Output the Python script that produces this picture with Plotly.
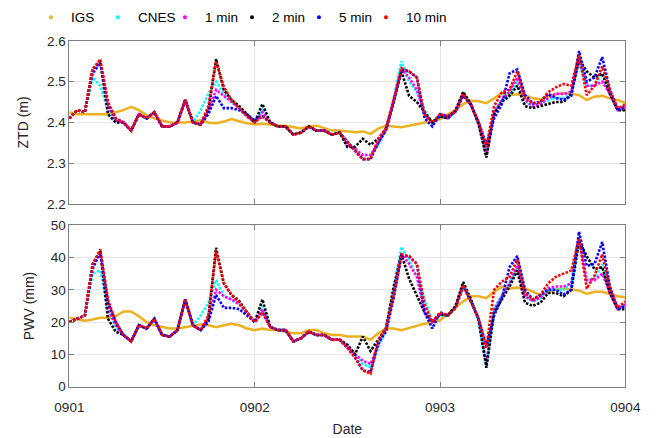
import plotly.graph_objects as go

HOURS = list(range(73))
TICK_VALS = [0, 24, 48, 72]
TICK_TEXT = ['0901', '0902', '0903', '0904']
SERIES = ['IGS', 'CNES', '1 min', '2 min', '5 min', '10 min']
COLORS = ['#EDB120', '#00FFFF', '#FF00FF', '#000000', '#0000FF', '#FF0000']

ztd_igs = [2.425,2.42,2.42,2.42,2.42,2.42,2.425,2.43,2.438,2.43,
 2.418,2.41,2.405,2.40,2.40,2.40,2.402,2.405,2.40,2.398,
 2.402,2.408,2.403,2.398,2.395,2.397,2.395,2.392,2.392,2.388,
 2.385,2.39,2.392,2.386,2.38,2.38,2.378,2.376,2.378,2.372,
 2.385,2.392,2.39,2.388,2.392,2.396,2.40,2.402,2.408,2.42,
 2.43,2.445,2.453,2.452,2.447,2.459,2.472,2.467,2.469,2.467,
 2.459,2.456,2.463,2.47,2.471,2.47,2.467,2.455,2.463,2.465,
 2.459,2.455,2.447]
ztd_cnes = [2.41,2.43,2.425,2.51,2.49,2.43,2.40,2.40,2.38,2.42,
 2.41,2.425,2.39,2.39,2.40,2.455,2.40,2.43,2.47,2.50,
 2.47,2.45,2.435,2.415,2.40,2.43,2.40,2.39,2.39,2.37,
 2.375,2.39,2.38,2.38,2.37,2.375,2.35,2.335,2.32,2.32,
 2.345,2.385,2.46,2.55,2.50,2.475,2.43,2.40,2.415,2.41,
 2.425,2.47,2.445,2.395,2.32,2.425,2.455,2.47,2.50,2.45,
 2.44,2.445,2.455,2.46,2.46,2.47,2.545,2.49,2.49,2.52,
 2.47,2.43,2.435]
ztd_1min = [2.41,2.43,2.425,2.53,2.55,2.44,2.405,2.40,2.38,2.42,
 2.41,2.425,2.39,2.39,2.40,2.455,2.40,2.395,2.43,2.48,
 2.465,2.45,2.435,2.415,2.40,2.425,2.40,2.39,2.39,2.37,
 2.375,2.39,2.38,2.38,2.37,2.375,2.345,2.335,2.32,2.32,
 2.35,2.385,2.455,2.53,2.51,2.48,2.42,2.40,2.415,2.41,
 2.427,2.47,2.443,2.40,2.32,2.425,2.455,2.475,2.51,2.455,
 2.44,2.445,2.46,2.47,2.47,2.475,2.555,2.49,2.49,2.50,
 2.47,2.43,2.435]
ztd_2min = [2.41,2.43,2.425,2.53,2.55,2.42,2.40,2.40,2.38,2.42,
 2.41,2.425,2.39,2.39,2.40,2.455,2.40,2.395,2.43,2.555,
 2.48,2.455,2.44,2.42,2.40,2.445,2.40,2.39,2.39,2.37,
 2.375,2.39,2.38,2.38,2.37,2.375,2.34,2.34,2.36,2.345,
 2.36,2.385,2.45,2.525,2.465,2.45,2.425,2.40,2.415,2.41,
 2.43,2.475,2.445,2.395,2.314,2.42,2.45,2.465,2.49,2.44,
 2.435,2.44,2.445,2.45,2.45,2.47,2.555,2.525,2.51,2.52,
 2.47,2.43,2.43]
ztd_5min = [2.41,2.43,2.425,2.52,2.545,2.445,2.41,2.40,2.38,2.42,
 2.41,2.425,2.39,2.39,2.40,2.455,2.40,2.395,2.42,2.465,
 2.435,2.435,2.43,2.42,2.405,2.415,2.40,2.39,2.39,2.37,
 2.375,2.39,2.38,2.38,2.37,2.375,2.353,2.33,2.31,2.31,
 2.35,2.38,2.45,2.53,2.525,2.51,2.41,2.39,2.42,2.415,
 2.427,2.465,2.443,2.40,2.345,2.41,2.445,2.52,2.53,2.467,
 2.447,2.45,2.47,2.46,2.455,2.465,2.575,2.50,2.51,2.56,
 2.48,2.43,2.44]
ztd_10min = [2.41,2.43,2.425,2.53,2.555,2.45,2.41,2.40,2.38,2.42,
 2.41,2.425,2.39,2.39,2.40,2.455,2.40,2.395,2.44,2.55,
 2.487,2.455,2.435,2.415,2.40,2.415,2.40,2.39,2.39,2.37,
 2.375,2.39,2.38,2.38,2.37,2.375,2.353,2.33,2.31,2.31,
 2.36,2.385,2.455,2.533,2.525,2.51,2.42,2.40,2.42,2.415,
 2.427,2.47,2.443,2.40,2.34,2.44,2.474,2.48,2.525,2.46,
 2.447,2.45,2.474,2.486,2.494,2.49,2.565,2.467,2.49,2.537,
 2.48,2.435,2.443]

pwv_igs = [21.3,20.8,20.4,20.8,21.3,21.3,21.8,23.3,23.3,21.8,
 20,19,18.4,18,18,18.4,19,19.2,19,18.4,
 19,19.5,19,18,17.5,18,17.5,17.5,17,16.5,
 16.5,17.5,17.5,16.5,16,16,15.5,15.5,15.5,14.5,
 16.5,18,18,17.5,18.2,19,19.5,19.8,20.5,22.5,
 24.4,26.4,28,28,27.4,29.4,30.9,30.4,30.7,30.4,
 29.4,28.4,29.1,30,30.4,30,29.8,28.7,29.4,29.4,
 28.7,28,27.7]
pwv_cnes = [20,21,22,35,36,24,18.5,16,14,19,
 18,21,16,15.5,17.5,27,19,22,26,33,
 28,27,25.5,23,20,25,18.5,17.5,17.5,14,
 15,17,16,16,14.5,14.5,12.5,10,7,6,
 12,18,30,43.3,39,34,27,20,22,22,
 24.4,31.5,27,20.5,6.5,24,28,32,37,28,
 26.5,27.5,30,30,30,32,45,33,33.5,38,
 29,24.5,25.5]
pwv_1min = [20,21,22,37.8,42,24,19,16,14,19,
 18,21,16,15.5,17.5,27,19,17.5,21,30,
 28,27,25.5,23,20,24,18.5,17.5,17.5,14,
 15,17,16,16,14.5,14.5,12.5,10,8,7,
 13,18,29,41,38,34,23,20,22.5,22,
 24.4,31.4,26.4,21,7,24,28,32,37.5,28,
 26.5,27.5,30.5,31,31,32,46,33,33,35,
 29,24,25.5]
pwv_2min = [20,21,22,37.8,42,21,17,16,14,19,
 18,21,16,15.5,17.5,27,19,17.5,21,43,
 32,28.4,26.5,23,20,27,18.5,17.5,17.5,14,
 15,17,16,16,14.5,14.5,13,10,15.5,11,
 14.5,18,31,41,33.4,28,23,20,22.5,22,
 25,32.4,27,20.5,5.8,23,27,31,36,26,
 25,26,29,29,28,30,45,40.4,36.4,37,
 29,24,24]
pwv_5min = [20,21,22,36.5,41.5,26,20,16,14,19,
 18,21,16,15.5,17.5,27,19,17.5,20,28.4,
 24.4,24.4,24,22,20,23,18.5,17.5,17.5,14,
 15,17,16,16,14.5,14.5,12,9,5,4.5,
 13.5,17,27.5,40.5,40.4,38,23,18,23,22,
 24.4,31,26.4,21,12.5,22,27.4,37,40.5,30,
 27,28.4,30,30,28.5,30,48,37.4,38,44.8,
 31,24,25]
pwv_10min = [20,21,22,37.8,42.5,27,20,16,14,19,
 18,21,16,15.5,17.5,27,19,17.5,22,42,
 32,28.4,26,23,20,23,18.5,17.5,17.5,14,
 15,17,16,16,14.5,14.5,12,9,5,4,
 14.5,18,28.4,41,40.4,38,25.5,20,23,22,
 24.4,31.4,26.4,21,12,30,32.5,34,39.4,29,
 27,28.4,32,34,35,36,46,30.4,34.4,41,
 30.4,24.5,26.4]

ZTD = [ztd_igs, ztd_cnes, ztd_1min, ztd_2min, ztd_5min, ztd_10min]
PWV = [pwv_igs, pwv_cnes, pwv_1min, pwv_2min, pwv_5min, pwv_10min]

FONT = 'Liberation Sans, Arial, Helvetica, sans-serif'
TXT = '#262626'
fig = go.Figure()

for i, name in enumerate(SERIES):
    if i == 0:
        line = dict(color=COLORS[i], width=2.5)
    else:
        line = dict(color=COLORS[i], width=2.6, dash='2.5px,1.5px')
    fig.add_trace(go.Scatter(x=HOURS, y=ZTD[i], mode='lines', line=line,
                             showlegend=False, xaxis='x', yaxis='y', hoverinfo='skip'))
    fig.add_trace(go.Scatter(x=HOURS, y=PWV[i], mode='lines', line=line,
                             showlegend=False, xaxis='x2', yaxis='y2', hoverinfo='skip'))

for i, name in enumerate(SERIES):
    fig.add_trace(go.Scatter(x=[None], y=[None], mode='markers', name=name,
                             marker=dict(color=COLORS[i], size=4, symbol='circle'),
                             xaxis='x', yaxis='y'))
# blank spacer entry so the last legend label is not clipped
fig.add_trace(go.Scatter(x=[None], y=[None], mode='markers', name=' ',
                         marker=dict(color='rgba(0,0,0,0)', size=1),
                         xaxis='x', yaxis='y'))

axis_common = dict(
    showline=True, linecolor='#808080', linewidth=1, mirror='ticks',
    ticks='inside', ticklen=5, tickcolor='#808080',
    showgrid=True, gridcolor='#e6e6e6', gridwidth=1,
    zeroline=False, tickfont=dict(family=FONT, size=13.5, color=TXT),
)

fig.update_layout(
    width=670, height=438,
    margin=dict(l=0, r=0, t=0, b=0),
    paper_bgcolor='white', plot_bgcolor='white',
    font=dict(family=FONT, size=13, color=TXT),
    xaxis=dict(domain=[0.0851, 0.9552], range=[0, 72], tickvals=TICK_VALS,
               ticktext=TICK_TEXT, showticklabels=False, anchor='y', **axis_common),
    yaxis=dict(domain=[0.5342, 0.9201], range=[2.2, 2.6], tickvals=[2.2, 2.3, 2.4, 2.5, 2.6],
               ticktext=['2.2', '2.3', '2.4', '2.5', '2.6'], anchor='x',
               title=dict(text='ZTD (m)', font=dict(family=FONT, size=14, color=TXT), standoff=14),
               **axis_common),
    xaxis2=dict(domain=[0.0851, 0.9552], range=[0, 72], tickvals=TICK_VALS,
                ticktext=TICK_TEXT, anchor='y2', ticklabelstandoff=8,
                title=dict(text='Date', font=dict(family=FONT, size=14, color=TXT), standoff=10),
                **axis_common),
    yaxis2=dict(domain=[0.1027, 0.4840], range=[0, 50], tickvals=[0, 10, 20, 30, 40, 50],
                anchor='x2',
                title=dict(text='PWV (mm)', font=dict(family=FONT, size=14, color=TXT), standoff=12),
                **axis_common),
    legend=dict(orientation='h', x=0.025, y=1.012, xanchor='left', yanchor='top',
                font=dict(family=FONT, size=13.5, color='#000000'),
                entrywidth=22, entrywidthmode='pixels',
                bgcolor='rgba(255,255,255,0)', tracegroupgap=0),
)

fig.write_html('out.html')
